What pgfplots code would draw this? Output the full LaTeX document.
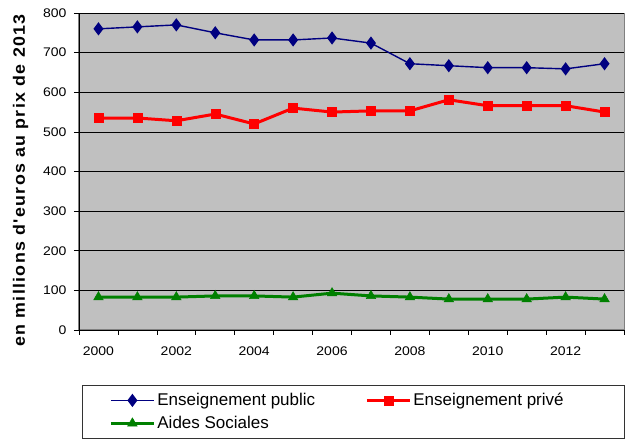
\documentclass[border=0pt]{standalone}
\usepackage{fontspec}
\setmainfont{Liberation Sans}
\newfontfamily\tickfont[FakeStretch=1.12]{Liberation Sans}
\newfontfamily\ylabfont[LetterSpace=8,FakeStretch=1.08]{Liberation Sans}
\usepackage{pgfplots}
\pgfplotsset{compat=1.18}
\definecolor{bgGray}{HTML}{C0C0C0}
\definecolor{navy}{HTML}{000080}
\definecolor{xlgreen}{HTML}{008000}
\definecolor{xlred}{HTML}{FF0000}
\begin{document}
\begin{tikzpicture}
\begin{axis}[
    scale only axis,
    width=545pt, height=317pt,
    xmin=-0.5, xmax=13.5,
    ymin=0, ymax=800,
    ytick={0,100,...,800},
    xtick={-0.5,0.5,...,13.5},
    xticklabels={},
    extra x ticks={0,2,4,6,8,10,12},
    extra x tick labels={2000,2002,2004,2006,2008,2010,2012},
    extra x tick style={major tick length=0pt, grid=none},
    tick align=outside,
    major tick length=5pt,
    tick style={black, line width=0.6pt},
    axis x line*=bottom, axis y line*=left,
    axis line style={black, line width=0.8pt, -},
    axis background/.style={fill=bgGray, draw=gray, line width=1pt},
    ymajorgrids=true,
    grid style={black, line width=0.6pt},
    /pgf/number format/assume math mode=true,
    ticklabel style={font=\fontsize{12.5}{14}\tickfont},
    yticklabel style={xshift=-4pt},
    xticklabel style={yshift=-13pt},
    ylabel={\fontsize{16.5}{18}\ylabfont\bfseries en millions d'euros au prix de 2013},
    ylabel style={yshift=8pt, xshift=-9pt},
    legend style={
        at={(0.0055,-0.1735)}, anchor=north west,
        draw=black!80, line width=0.8pt, fill=white,
        font=\fontsize{17}{18}\selectfont,
        inner xsep=27pt, inner ysep=6pt,
        row sep=5pt,
        /tikz/every even column/.append style={column sep=0pt},
    },
    legend columns=2,
    legend cell align=left,
    legend image code/.code={%
        \draw[mark repeat=2,mark phase=2,#1] plot coordinates {(0pt,0pt) (21.5pt,0pt) (43pt,0pt)};},
]
\addplot[navy, line width=1.4pt, mark=diamond*, mark size=5.5pt, mark options={solid, fill=navy}]
coordinates {(0,760)(1,765)(2,770)(3,750)(4,732)(5,732)(6,737)(7,724)(8,672)(9,667)(10,662)(11,662)(12,659)(13,672)};
\addlegendentry{\makebox[206pt][l]{Enseignement public}}
\addplot[xlred, line width=3pt, mark=square*, mark size=4.5pt, mark options={solid, line width=0.5pt, fill=xlred}]
coordinates {(0,535)(1,535)(2,528)(3,545)(4,520)(5,560)(6,550)(7,553)(8,553)(9,581)(10,566)(11,566)(12,566)(13,550)};
\addlegendentry{\makebox[182pt][l]{Enseignement privé}}
\addplot[xlgreen, line width=3pt, mark=triangle*, mark size=5.5pt, mark options={solid, line width=0.5pt, fill=xlgreen}]
coordinates {(0,83)(1,83)(2,83)(3,86)(4,86)(5,83)(6,93)(7,86)(8,83)(9,78)(10,78)(11,78)(12,83)(13,78)};
\addlegendentry{Aides Sociales}
\coordinate (O) at (rel axis cs:0,0);
\end{axis}
\pgfresetboundingbox
\path (O) ++(-79pt,-111pt) rectangle ++(629pt,441pt);
\end{tikzpicture}
\end{document}
